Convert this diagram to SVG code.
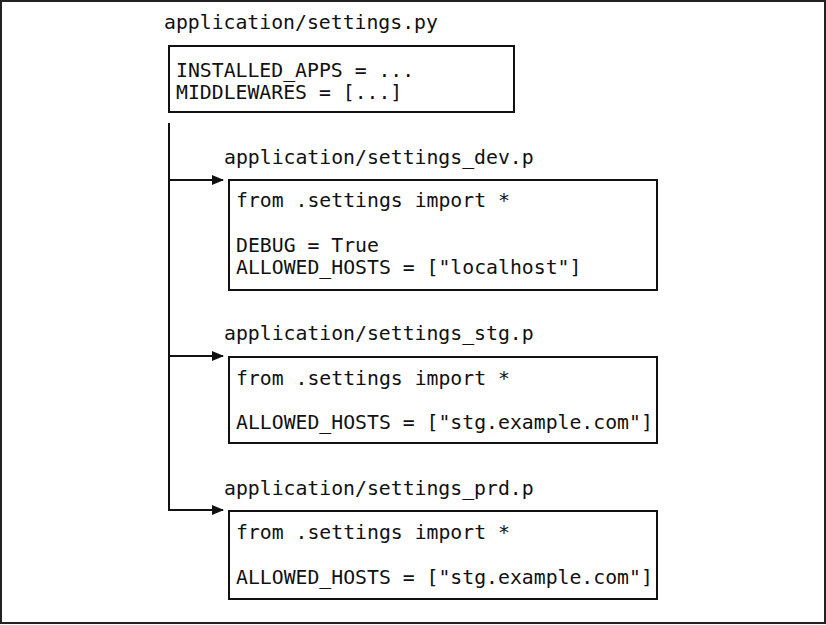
<svg xmlns="http://www.w3.org/2000/svg" width="826" height="625" viewBox="0 0 826 625">
<defs>
<style>
text{font-family:"DejaVu Sans Mono","Liberation Mono",monospace;font-size:19.8px;fill:#111;}
.box{fill:#fff;stroke:#111;stroke-width:2;}
.conn{fill:none;stroke:#111;stroke-width:2;}
</style>
<marker id="arr" markerWidth="12" markerHeight="12" refX="11" refY="6" orient="auto" markerUnits="userSpaceOnUse">
<path d="M0,1 L12,6 L0,11 Z" fill="#111"/>
</marker>
</defs>
<rect x="0" y="0" width="826" height="625" fill="#fff"/>
<rect x="1" y="1" width="824" height="622" fill="none" stroke="#222" stroke-width="2"/>
<g id="connectors">
<path class="conn" d="M169,123 V510 H223" marker-end="url(#arr)"/>
<path class="conn" d="M169,180 H223" marker-end="url(#arr)"/>
<path class="conn" d="M169,356 H223" marker-end="url(#arr)"/>
</g>
<g id="settings">
<text x="164" y="29">application/settings.py</text>
<rect class="box" x="169" y="46" width="345" height="66"/>
<text x="176" y="77">INSTALLED_APPS = ...</text>
<text x="176" y="99">MIDDLEWARES = [...]</text>
</g>
<g id="settings_dev">
<text x="224" y="164">application/settings_dev.p</text>
<rect class="box" x="229" y="180" width="428" height="110"/>
<text x="236" y="207">from .settings import *</text>
<text x="236" y="252">DEBUG = True</text>
<text x="236" y="274">ALLOWED_HOSTS = ["localhost"]</text>
</g>
<g id="settings_stg">
<text x="224" y="340">application/settings_stg.p</text>
<rect class="box" x="229" y="357" width="428" height="86"/>
<text x="236" y="385">from .settings import *</text>
<text x="236" y="429">ALLOWED_HOSTS = ["stg.example.com"]</text>
</g>
<g id="settings_prd">
<text x="224" y="495">application/settings_prd.p</text>
<rect class="box" x="229" y="511" width="428" height="88"/>
<text x="236" y="539">from .settings import *</text>
<text x="236" y="584">ALLOWED_HOSTS = ["stg.example.com"]</text>
</g>
</svg>
